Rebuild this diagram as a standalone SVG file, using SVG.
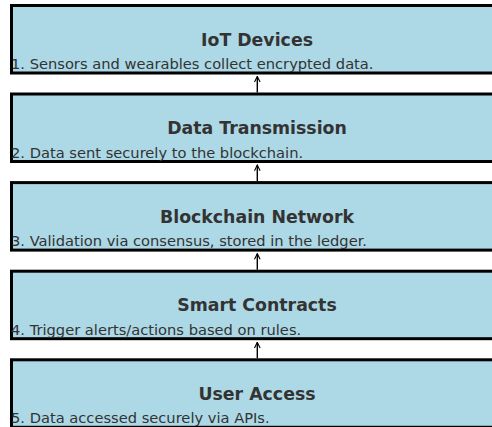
<svg xmlns="http://www.w3.org/2000/svg" width="492" height="427" viewBox="0 0 492 427">
  <style>
    .box { fill: #add8e6; stroke: #000; stroke-width: 3; }
    .title { font-family: "DejaVu Sans", sans-serif; font-weight: bold; font-size: 17.33px; fill: #333; text-anchor: middle; }
    .desc { font-family: "DejaVu Sans", sans-serif; font-size: 14.67px; fill: #333; }
    .conn { stroke: #000; stroke-width: 1.4; fill: none; }
  </style>
  <defs>
    <marker id="head" viewBox="0 0 10 10" refX="9" refY="5" markerWidth="7" markerHeight="7" markerUnits="userSpaceOnUse" orient="auto">
      <path d="M1,1 L9,5 L1,9" fill="none" stroke="#000" stroke-width="1.6"/>
    </marker>
  </defs>
  <rect width="492" height="427" fill="#fff"/>

  <g id="iot-devices">
    <rect class="box" x="11.5" y="5.5" width="500" height="67.5"/>
    <text class="title" x="257" y="45.5">IoT Devices</text>
    <text class="desc" x="11" y="69">1. Sensors and wearables collect encrypted data.</text>
  </g>
  <g id="data-transmission">
    <rect class="box" x="11.5" y="94" width="500" height="67.5"/>
    <text class="title" x="257" y="134">Data Transmission</text>
    <text class="desc" x="11" y="157.5">2. Data sent securely to the blockchain.</text>
  </g>
  <g id="blockchain-network">
    <rect class="box" x="11.5" y="182.6" width="500" height="67.5"/>
    <text class="title" x="257" y="222.6">Blockchain Network</text>
    <text class="desc" x="11" y="246.1">3. Validation via consensus, stored in the ledger.</text>
  </g>
  <g id="smart-contracts">
    <rect class="box" x="11.5" y="271.2" width="500" height="67.5"/>
    <text class="title" x="257" y="311.2">Smart Contracts</text>
    <text class="desc" x="11" y="334.7">4. Trigger alerts/actions based on rules.</text>
  </g>
  <g id="user-access">
    <rect class="box" x="11.5" y="359.8" width="500" height="67.5"/>
    <text class="title" x="257" y="399.8">User Access</text>
    <text class="desc" x="11" y="423.3">5. Data accessed securely via APIs.</text>
  </g>

  <g id="connectors">
    <line class="conn" x1="257.3" y1="92.5" x2="257.3" y2="76.5" marker-end="url(#head)"/>
    <line class="conn" x1="257.3" y1="181.1" x2="257.3" y2="165.1" marker-end="url(#head)"/>
    <line class="conn" x1="257.3" y1="269.7" x2="257.3" y2="253.7" marker-end="url(#head)"/>
    <line class="conn" x1="257.3" y1="358.3" x2="257.3" y2="342.3" marker-end="url(#head)"/>
  </g>
</svg>
